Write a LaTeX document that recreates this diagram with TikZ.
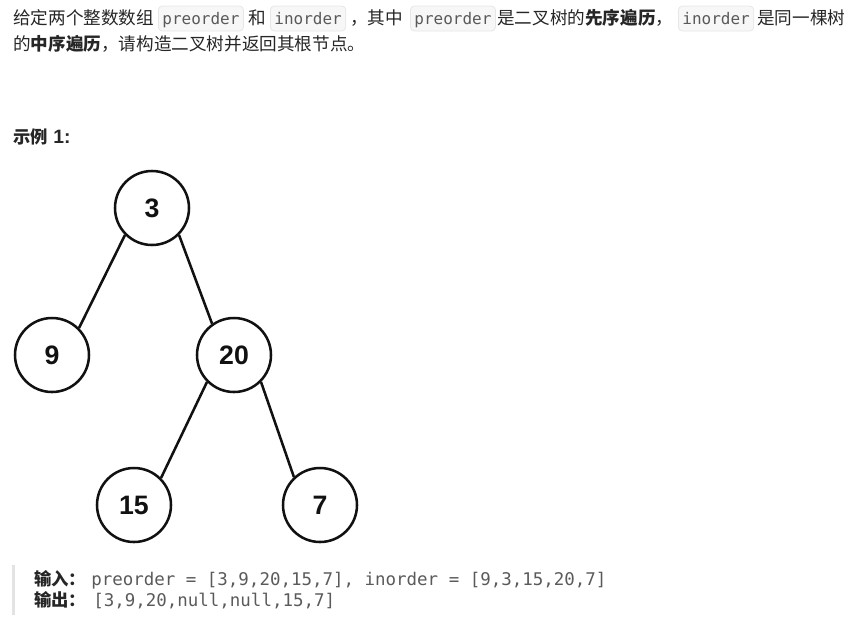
\documentclass[tikz,border=0pt]{standalone}
\usepackage{fontspec}
\setmainfont{Liberation Sans}
\newfontfamily\cjk{Noto Sans CJK SC}
\newfontfamily\arial{Liberation Sans}
\newfontfamily\mono{DejaVu Sans Mono}
\definecolor{txt}{HTML}{262626}
\definecolor{codetxt}{HTML}{5A5A5A}
\definecolor{codebg}{HTML}{F7F7F8}
\definecolor{codeborder}{HTML}{E6E6E6}
\definecolor{barcol}{HTML}{E3E3E3}
\definecolor{ink}{HTML}{111111}
\begin{document}
\begin{tikzpicture}[x=0.75pt,y=-0.75pt,
  txtnode/.style={anchor=base west, inner sep=0, text=txt, font=\cjk\fontsize{13.2pt}{16pt}\selectfont},
  codebox/.style={anchor=base west, inner xsep=3pt, inner ysep=0, text height=13.6pt, text depth=5.1pt,
    fill=codebg, draw=codeborder, line width=0.6pt, rounded corners=3pt, text=codetxt,
    font=\mono\fontsize{12pt}{14pt}\selectfont},
  codeline/.style={anchor=base west, inner sep=0, text=codetxt, font=\mono\fontsize{13.1pt}{16pt}\selectfont},
  labnode/.style={anchor=base west, inner sep=0, text=txt, font=\cjk\bfseries\fontsize{13pt}{16pt}\selectfont},
  treenode/.style={circle, draw=ink, line width=1.9pt, minimum size=55.5pt, inner sep=0,
    font=\arial\bfseries\fontsize{20pt}{20pt}\selectfont, text=ink},
  edge/.style={draw=ink, line width=1.9pt}]
\useasboundingbox (0,0) rectangle (855,632);
% paragraph
\node[txtnode] (t1) at (13,24.2) {给定两个整数数组};
\node[codebox] (c1) at (158,24.2) {preorder};
\node[txtnode] (t2) at (248,24.2) {和};
\node[codebox] (c2) at (270,24.2) {inorder};
\node[txtnode] (t3) at (350,24.2) {，其中};
\node[codebox] (c3) at (410,24.2) {preorder};
\node[txtnode] (t4) at (497,24.2) {是二叉树的\textbf{先序遍历}，};
\node[codebox] (c4) at (678,24.2) {inorder};
\node[txtnode] (t5) at (757,24.2) {是同一棵树};
\node[txtnode] (t6) at (13,50.7) {的\textbf{中序遍历}，请构造二叉树并返回其根节点。};
% example title
\node[labnode] (ex) at (13,143) {示例{\arial\bfseries\fontsize{14.5pt}{16pt}\selectfont\ 1:}};
% tree
\node[treenode] (n3) at (152,208) {3};
\node[treenode] (n9) at (52,355) {9};
\node[treenode] (n20) at (234,355) {20};
\node[treenode] (n15) at (134,505) {15};
\node[treenode] (n7) at (320,505) {7};
\draw[edge] (n3.-135) -- (n9.45);
\draw[edge] (n3.-45) -- (n20.125);
\draw[edge] (n20.-135) -- (n15.45);
\draw[edge] (n20.-45) -- (n7.133);
% input / output
\fill[barcol] (12,565) rectangle (15,615);
\node[labnode] (in) at (34,585) {输入：};
\node[codeline] (inc) at (91,585) {preorder = [3,9,20,15,7], inorder = [9,3,15,20,7]};
\node[labnode] (out) at (34,606.5) {输出：};
\node[codeline] (outc) at (93,606.5) {[3,9,20,null,null,15,7]};
\end{tikzpicture}
\end{document}
